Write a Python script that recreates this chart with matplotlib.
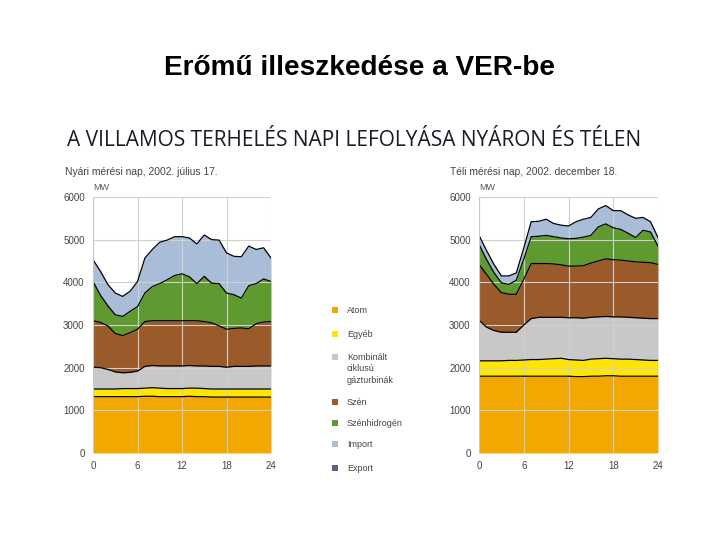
import numpy as np
import matplotlib
matplotlib.use("Agg")
import matplotlib.pyplot as plt
from matplotlib.patches import Rectangle

hours = list(range(25))

# Summer day (2002-07-17), cumulative tops of each stacked layer, MW
summer_atom = [1320,1320,1320,1320,1320,1320,1320,1330,1330,1320,1320,1320,1320,1330,1320,1320,1310,1310,1310,1310,1310,1310,1310,1310,1310]
summer_egyeb = [1500,1500,1500,1500,1510,1510,1510,1520,1530,1520,1510,1510,1510,1520,1520,1510,1500,1500,1500,1500,1500,1500,1500,1500,1500]
summer_komb = [2010,2000,1960,1900,1880,1890,1920,2030,2050,2040,2040,2040,2040,2050,2040,2040,2030,2030,2010,2030,2030,2030,2040,2040,2040]
summer_szen = [3100,3060,2980,2800,2750,2820,2900,3080,3100,3100,3100,3100,3100,3100,3100,3080,3050,2980,2900,2920,2930,2910,3030,3070,3080]
summer_szh = [4020,3700,3450,3240,3200,3320,3430,3750,3900,3970,4060,4160,4200,4130,3970,4140,3980,3970,3750,3710,3630,3920,3970,4080,4020]
summer_import = [4530,4260,3950,3750,3670,3790,4020,4570,4770,4940,4990,5070,5070,5040,4900,5110,5000,4990,4690,4610,4600,4850,4770,4810,4570]

# Winter day (2002-12-18), cumulative tops, MW
winter_atom = [1800,1800,1800,1800,1800,1800,1800,1800,1800,1800,1800,1800,1800,1790,1790,1800,1800,1810,1810,1800,1800,1800,1800,1800,1800]
winter_egyeb = [2160,2160,2160,2160,2170,2170,2180,2190,2190,2200,2210,2220,2190,2180,2170,2200,2210,2220,2210,2200,2200,2190,2180,2170,2170]
winter_komb = [3110,2950,2870,2830,2830,2830,3000,3150,3180,3180,3180,3180,3170,3170,3160,3180,3190,3200,3190,3190,3180,3170,3160,3150,3150]
winter_szen = [4420,4190,3950,3760,3720,3720,4070,4440,4440,4440,4430,4410,4380,4380,4390,4450,4500,4550,4530,4520,4500,4480,4470,4460,4420]
winter_szh = [4890,4540,4230,3990,3950,4050,4540,5070,5080,5100,5070,5040,5020,5030,5060,5100,5300,5370,5280,5240,5150,5050,5220,5180,4850]
winter_import = [5100,4750,4420,4150,4150,4220,4800,5420,5430,5480,5380,5340,5320,5420,5480,5520,5720,5800,5680,5680,5580,5500,5520,5420,5050]

legend_labels = ["Atom", "Egyéb", "Kombinált\nciklusú\ngázturbinák", "Szén", "Szénhidrogén", "Import", "Export"]
colors = ["#F3A800", "#FFE600", "#C8C8C8", "#9A5A2A", "#5E9A30", "#A9BDD8", "#6B5A85"]

x_ticks = [0, 6, 12, 18, 24]
y_ticks = [0, 1000, 2000, 3000, 4000, 5000, 6000]

fig = plt.figure(figsize=(7.2, 5.4), dpi=100)
fig.patch.set_facecolor("white")

fig.text(0.5, 1 - 68/540, "Erőmű illeszkedése a VER-be", ha="center", va="center",
         fontsize=20.2, fontweight="bold", family="Liberation Sans", color="black")
fig.text(354/720, 1 - 141/540, "A VILLAMOS TERHELÉS NAPI LEFOLYÁSA NYÁRON ÉS TÉLEN",
         ha="center", va="center", fontsize=15, family="Open Sans", color="#1a1a2a")

def draw(ax_rect, tops, subtitle, sub_x):
    ax = fig.add_axes(ax_rect)
    prev = np.zeros(len(hours))
    for top, c in zip(tops, colors):
        top = np.array(top, dtype=float)
        ax.fill_between(hours, prev, top, color=c, linewidth=0)
        ax.plot(hours, top, color="black", linewidth=0.9)
        prev = top
    ax.set_xlim(0, 24)
    ax.set_ylim(0, 6000)
    ax.set_xticks(x_ticks)
    ax.set_yticks(y_ticks)
    ax.grid(True, color="#d0d0d0", linewidth=0.8)
    for s in ax.spines.values():
        s.set_visible(False)
    ax.axvline(0, color="#c8c8c8", linewidth=0.8)
    ax.tick_params(length=0, labelsize=7, labelcolor="#444444", pad=6)
    for lab in ax.get_xticklabels() + ax.get_yticklabels():
        lab.set_family("Liberation Sans")
    ax.text(0, 1.02, "MW", transform=ax.transAxes, fontsize=6.5, color="#555555",
            ha="left", va="bottom", family="Liberation Sans")
    fig.text(sub_x, 1 - 172/540, subtitle, fontsize=7.4, color="#444444",
             ha="left", va="center", family="Liberation Sans")
    for gl in ax.get_xgridlines() + ax.get_ygridlines():
        gl.set_zorder(0.5)
    return ax

draw([93/720, 1 - 453/540, 178/720, 256/540],
     [summer_atom, summer_egyeb, summer_komb, summer_szen, summer_szh, summer_import],
     "Nyári mérési nap, 2002. július 17.", 65/720)
draw([479/720, 1 - 453/540, 179/720, 256/540],
     [winter_atom, winter_egyeb, winter_komb, winter_szen, winter_szh, winter_import],
     "Téli mérési nap, 2002. december 18.", 450/720)

legend_y = [310, 334, 357, 402, 423, 444, 468]
for lab, c, yy in zip(legend_labels, colors, legend_y):
    fig.patches.append(Rectangle((332/720, 1 - (yy + 3)/540), 6/720, 6/540,
                                 transform=fig.transFigure, facecolor=c, edgecolor="none"))
    fig.text(347/720, 1 - (yy - 4)/540, lab, fontsize=6.5, color="#444444",
             ha="left", va="top", family="Liberation Sans", linespacing=1.35)

fig.savefig("out.png", dpi=100, facecolor="white")
